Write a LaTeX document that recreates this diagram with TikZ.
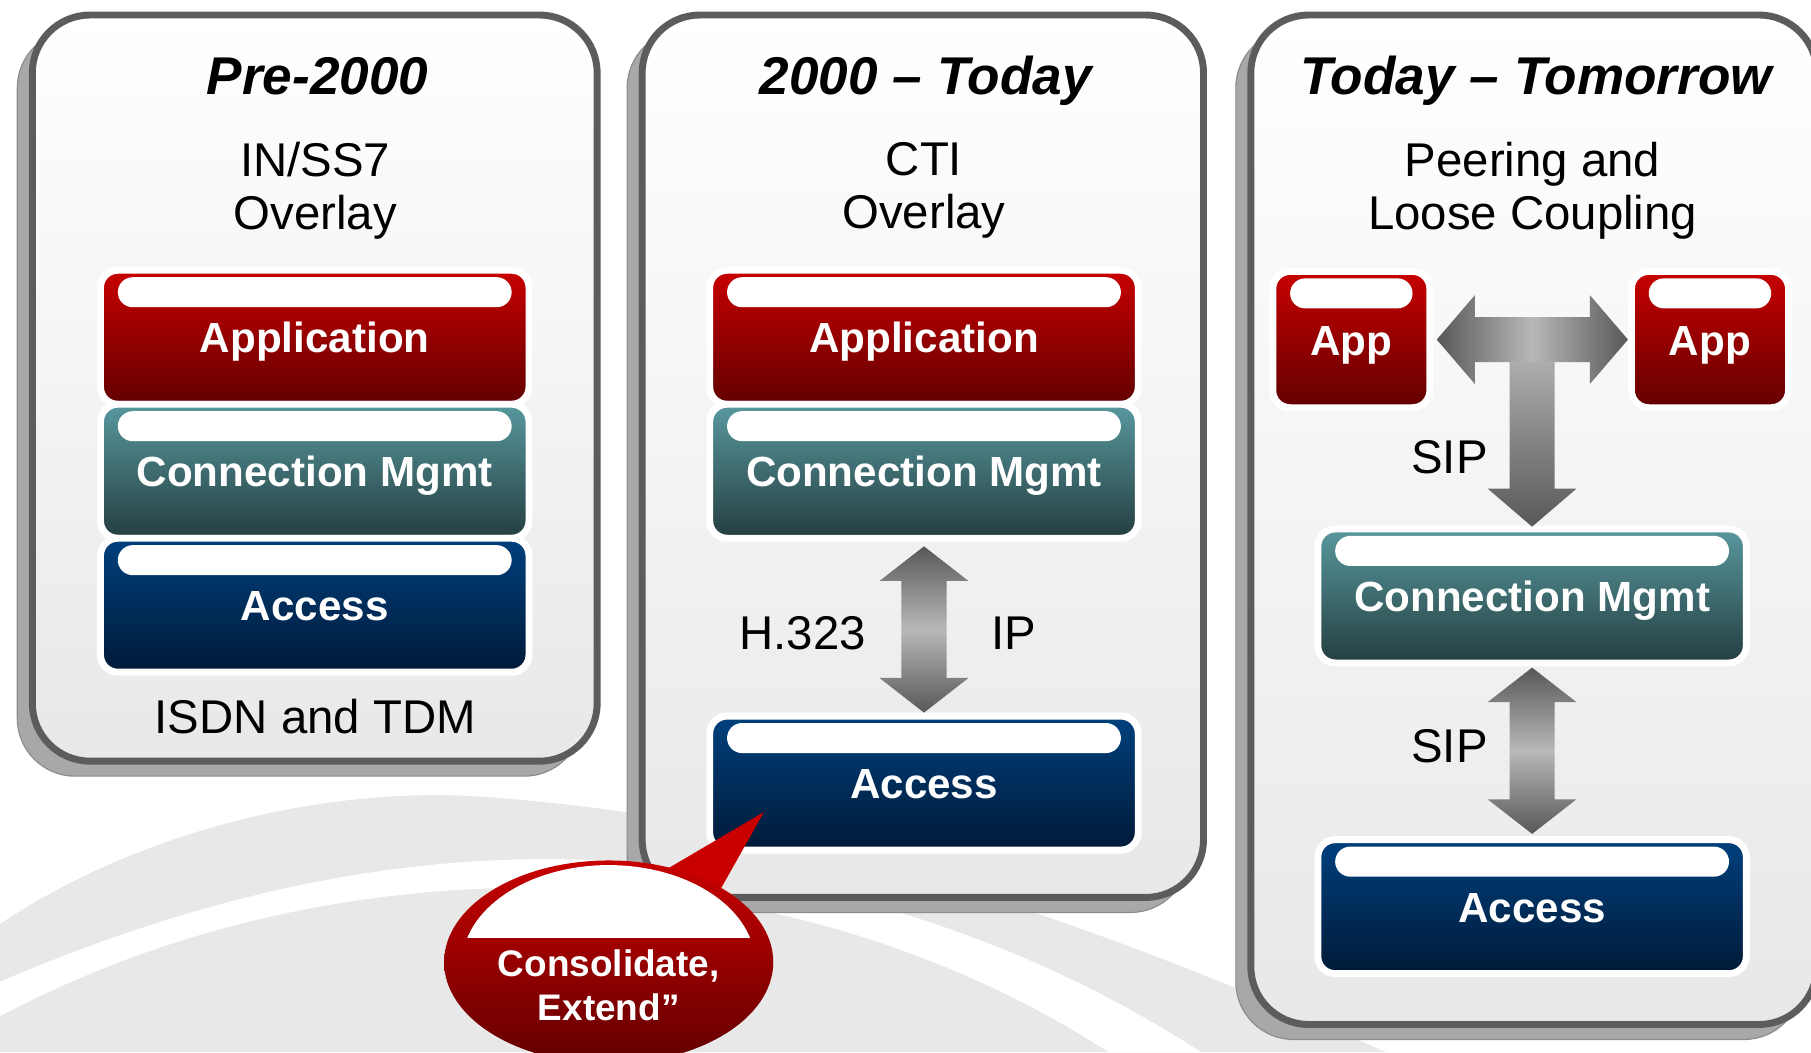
\documentclass[tikz,border=0pt]{standalone}
\usepackage{fontspec}
\setmainfont{Liberation Sans}
\usetikzlibrary{positioning, calc, shapes.geometric}
\definecolor{RedTop}{RGB}{200, 0, 0}
\definecolor{RedBot}{RGB}{98, 0, 0}
\definecolor{TealTop}{RGB}{88, 152, 158}
\definecolor{TealBot}{RGB}{36, 62, 64}
\definecolor{NavyTop}{RGB}{0, 64, 125}
\definecolor{NavyBot}{RGB}{0, 26, 56}
\definecolor{FrameGray}{RGB}{92, 92, 92}
\definecolor{ShadowGray}{RGB}{168, 168, 168}
\definecolor{PanelLow}{RGB}{232, 232, 232}
\definecolor{ArrowDark}{RGB}{88, 88, 88}
\definecolor{ArrowLight}{RGB}{184, 184, 184}
\definecolor{BackGray}{RGB}{232, 232, 232}
\tikzset{
  panel/.style={draw=FrameGray, line width=6pt, rounded corners=50pt,
    top color=white, bottom color=PanelLow},
  panelshadow/.style={fill=ShadowGray, draw=black!45, line width=1pt,
    rounded corners=50pt},
  lyr/.style={rectangle, rounded corners=15pt, draw=white, line width=6pt,
    outer sep=0pt, inner sep=0pt, minimum width=371pt, minimum height=116pt,
    text=white, font=\fontsize{36.5}{40}\selectfont\bfseries,
    text height=27pt, text depth=0pt,
    path picture={\fill[white, rounded corners=13pt]
      ([xshift=15pt,yshift=-6pt]path picture bounding box.north west) rectangle
      ([xshift=-15pt,yshift=-32pt]path picture bounding box.north east);}},
  applyr/.style={lyr, minimum width=136pt, minimum height=118pt},
  redlyr/.style={top color=RedTop, bottom color=RedBot},
  teallyr/.style={top color=TealTop, bottom color=TealBot},
  navylyr/.style={top color=NavyTop, bottom color=NavyBot},
  era/.style={font=\fontsize{46}{52}\selectfont\bfseries\itshape, anchor=base},
  sub/.style={font=\fontsize{41}{46}\selectfont, align=center, inner sep=0pt},
  lbl/.style={font=\fontsize{41}{46}\selectfont, anchor=base},
  blk/.style={top color=ArrowDark, bottom color=ArrowDark, middle color=ArrowLight},
  note/.style={ellipse, minimum width=285pt, minimum height=176pt, inner sep=0pt,
    top color=RedTop, bottom color=RedBot,
    path picture={\begin{scope}
      \clip ([xshift=-5pt]path picture bounding box.north west) rectangle
        ([xshift=5pt,yshift=21pt]path picture bounding box.east);
      \fill[white] ([yshift=-2pt]path picture bounding box.center)
        ellipse [x radius=127pt, y radius=86pt];
      \end{scope}}},
  notetext/.style={text=white, font=\fontsize{32}{38}\selectfont\bfseries,
    align=center},
}
% vertical block arrow, tips at #1 (top) and #2 (bottom)
\newcommand{\dblarrow}[2]{%
  \shade[blk] (#1) -- ++(38.5,30) -- ++(-19,0) -- ($(#2)+(19.5,-30)$)
    -- ++(19,0) -- (#2) -- ++(-38.5,-30) -- ++(19,0)
    -- ($(#1)+(-19.5,30)$) -- ++(-19,0) -- cycle;}

\begin{document}
\begin{tikzpicture}[x=1pt, y=-1pt]
  \useasboundingbox (0,0) rectangle (1568,911);
  % background swoosh
  \fill[white] (0,0) rectangle (1568,911);
  \fill[BackGray] (0,911) -- (0,800) .. controls (120,720) and (280,680) .. (420,690)
    .. controls (700,710) and (950,800) .. (1200,911) -- cycle;
  \fill[white] (0,880) .. controls (150,800) and (330,760) .. (520,770)
    .. controls (700,780) and (850,840) .. (960,911) -- (1040,911)
    .. controls (900,820) and (720,755) .. (520,745)
    .. controls (320,735) and (140,790) .. (0,850) -- cycle;

  % panels
  \draw[panelshadow] (15,26) rectangle (504,672);
  \draw[panel] (28,13) rectangle (517,659);
  \draw[panelshadow] (543,26) rectangle (1029,790);
  \draw[panel] (556,13) rectangle (1042,777);
  \draw[panelshadow] (1070,26) rectangle (1560,900);
  \draw[panel] (1083,13) rectangle (1573,887);

  % Pre-2000
  \node[era] (t1) at (275,81.5) {Pre-2000};
  \node[sub] (s1) at (273,165) {IN/SS7\\Overlay};
  \node[lyr, redlyr] (app1) at (272.5,292) {Application};
  \node[lyr, teallyr, below=0pt of app1] (cm1) {Connection Mgmt};
  \node[lyr, navylyr, below=0pt of cm1] (acc1) {Access};
  \node[lbl] (isdn) at (273,635) {ISDN and TDM};

  % 2000 - Today
  \node[era] (t2) at (801.5,81.5) {2000 – Today};
  \node[sub] (s2) at (800,165) {CTI\\Overlay};
  \node[lyr, redlyr] (app2) at (800,292) {Application};
  \node[lyr, teallyr, below=0pt of app2] (cm2) {Connection Mgmt};
  \node[lyr, navylyr, below=154pt of cm2] (acc2) {Access};
  \coordinate (a2t) at ($(cm2.south)+(0,7)$);
  \coordinate (a2b) at ($(acc2.north)+(0,-3)$);
  \dblarrow{a2t}{a2b}
  \node[lbl] (h323) at (695,562) {H.323};
  \node[lbl] (ip) at (878,562) {IP};

  % Today - Tomorrow
  \node[era] (t3) at (1330,81.5) {Today – Tomorrow};
  \node[sub] (s3) at (1327,165) {Peering and\\Loose Coupling};
  \node[applyr, redlyr] (appL) at (1170,294) {App};
  \node[applyr, redlyr] (appR) at (1480.5,294) {App};
  \node[lyr, teallyr] (cm3) at (1326.5,516) {Connection Mgmt};
  \node[lyr, navylyr, below=153pt of cm3] (acc3) {Access};
  \coordinate (tl) at ($(appL.east)+(6,0)$);
  \coordinate (tr) at ($(appR.west)+(-3,0)$);
  \coordinate (tb) at ($(cm3.north)+(0,-2)$);
  \coordinate (tc) at (tb |- tl);
  \shade[top color=ArrowLight, bottom color=ArrowDark]
    ($(tc)+(-19.5,0)$) -- ($(tc)+(19.5,0)$) -- ($(tb)+(19.5,-33)$) -- ++(19,0)
    -- (tb) -- ++(-38.5,-33) -- ++(19,0) -- cycle;
  \shade[left color=ArrowDark, right color=ArrowDark, middle color=ArrowLight]
    (tl) -- ++(33,-38.5) -- ++(0,19) -- ($(tr)+(-33,-19.5)$) -- ++(0,-19)
    -- (tr) -- ++(-33,38.5) -- ++(0,-19) -- ($(tl)+(33,19.5)$) -- ++(0,19) -- cycle;
  \node[lbl] (sip1) at (1255,410) {SIP};
  \coordinate (a3t) at ($(cm3.south)+(0,4)$);
  \coordinate (a3b) at ($(acc3.north)+(0,-5)$);
  \dblarrow{a3t}{a3b}
  \node[lbl] (sip2) at (1255,660) {SIP};

  % callout
  \coordinate (cc) at (527,833);
  \fill[RedTop] ($(cc)+(28.4,-67.6)$) -- ($(acc2.south west)+(47,-33)$)
    -- ($(cc)+(86.9,-45.5)$) -- cycle;
  \node[note] (callout) at (cc) {};
  \node[notetext] (calltext) at ($(callout.center)+(0,20)$) {Consolidate,\\Extend”};
\end{tikzpicture}
\end{document}
